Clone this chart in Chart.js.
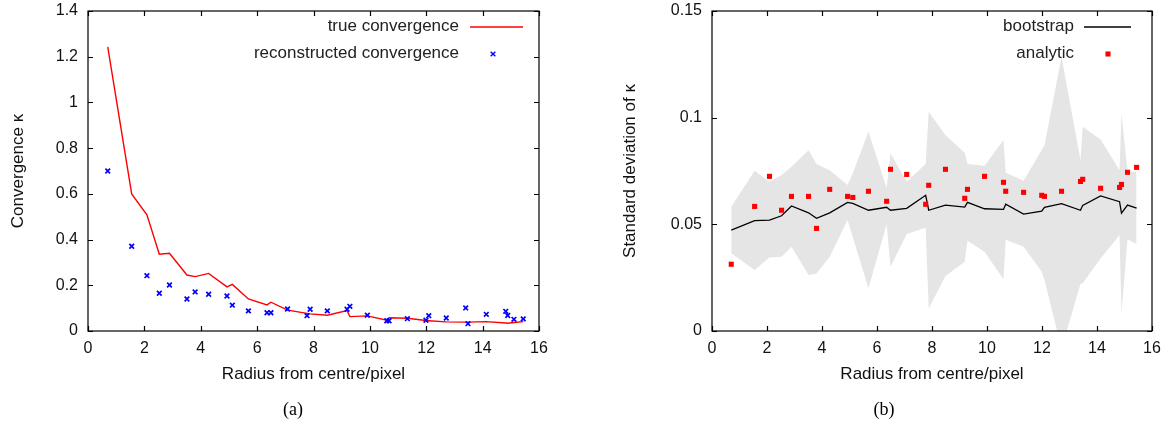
<!DOCTYPE html>
<html>
<head>
<meta charset="utf-8">
<title>Convergence and its standard deviation</title>
<script src="https://cdn.jsdelivr.net/npm/chart.js@4.4.1/dist/chart.umd.min.js"></script>
<style>
  body { margin: 0; background: #fff; width: 1168px; height: 432px; position: relative; overflow: hidden; }
  canvas { position: absolute; top: 0; }
  #left { left: 0; }
  #right { left: 580px; }
  .cap { position: absolute; top: 399px; font: 18px "Liberation Serif", serif; color: #000; transform: translateX(-50%); }
</style>
</head>
<body>
<canvas id="left" width="580" height="400"></canvas>
<canvas id="right" width="588" height="400"></canvas>
<div class="cap" style="left:293px">(a)</div>
<div class="cap" style="left:884px">(b)</div>
<script>
// radii (pixels from centre) shared by both panels
const radius = [0.70, 1.55, 2.09, 2.53, 2.89, 3.51, 3.80, 4.28, 4.93, 5.12, 5.69, 6.35, 6.49, 7.08, 7.77, 7.88,
  8.49, 9.19, 9.29, 9.91, 10.60, 10.68, 11.33, 11.99, 12.09, 12.71, 13.40, 13.48, 14.13, 14.82, 14.89, 15.11, 15.44];

// (a) convergence
const trueKappa = [1.243, 0.600, 0.508, 0.336, 0.340, 0.245, 0.238, 0.252, 0.193, 0.204, 0.140, 0.114, 0.126, 0.091, 0.077, 0.075,
  0.069, 0.089, 0.063, 0.066, 0.047, 0.058, 0.056, 0.046, 0.045, 0.040, 0.039, 0.039, 0.041, 0.035, 0.034, 0.037, 0.041];
const reconKappa = [0.700, 0.371, 0.242, 0.165, 0.201, 0.140, 0.171, 0.161, 0.153, 0.113, 0.088, 0.080, 0.080, 0.096, 0.067, 0.095,
  0.088, 0.095, 0.108, 0.069, 0.045, 0.045, 0.054, 0.047, 0.067, 0.057, 0.101, 0.032, 0.073, 0.086, 0.068, 0.051, 0.053];

// (b) standard deviation of kappa
const analyticSd = [0.0313, 0.0584, 0.0725, 0.0566, 0.0631, 0.0631, 0.0481, 0.0664, 0.0631, 0.0626, 0.0655, 0.0608, 0.0758, 0.0734, 0.0594, 0.0683,
  0.0758, 0.0622, 0.0664, 0.0725, 0.0697, 0.0655, 0.0650, 0.0636, 0.0631, 0.0655, 0.0701, 0.0711, 0.0669, 0.0673, 0.0687, 0.0744, 0.0767];
const bootstrapSd = [0.0473, 0.0517, 0.0520, 0.0540, 0.0586, 0.0554, 0.0528, 0.0554, 0.0603, 0.0598, 0.0566, 0.0580, 0.0566, 0.0575, 0.0636, 0.0566,
  0.0590, 0.0581, 0.0603, 0.0573, 0.0570, 0.0594, 0.0548, 0.0562, 0.0580, 0.0597, 0.0566, 0.0589, 0.0633, 0.0606, 0.0552, 0.0590, 0.0576];
const bootstrapHi = [0.0583, 0.0751, 0.0700, 0.0731, 0.0770, 0.0847, 0.0783, 0.0754, 0.0684, 0.0740, 0.0934, 0.0670, 0.0833, 0.0700, 0.0783, 0.1028,
  0.0918, 0.0836, 0.0783, 0.0775, 0.0895, 0.0742, 0.0704, 0.0848, 0.0870, 0.1285, 0.0800, 0.0957, 0.0898, 0.0754, 0.1020, 0.0747, 0.0747];
const bootstrapLo = [0.0364, 0.0286, 0.0344, 0.0348, 0.0395, 0.0262, 0.0270, 0.0348, 0.0520, 0.0440, 0.0200, 0.0500, 0.0301, 0.0455, 0.0484, 0.0106,
  0.0258, 0.0325, 0.0423, 0.0372, 0.0242, 0.0428, 0.0395, 0.0278, 0.0240, -0.0083, 0.0222, 0.0224, 0.0340, 0.0450, 0.0083, 0.0430, 0.0408];

const xTitle = 'Radius from centre/pixel';

Chart.defaults.font.family = '"Liberation Sans", Arial, sans-serif';
Chart.defaults.color = '#111';

function pts(ys) {
  return radius.map((r, i) => ({ x: r, y: ys[i] }));
}

// box round the plot with inward ticks on all four sides
const frame = {
  id: 'frame',
  afterDraw(chart) {
    const { ctx, chartArea: a, scales: { x, y } } = chart;
    ctx.save();
    ctx.strokeStyle = '#000';
    ctx.lineWidth = 1.2;
    ctx.beginPath();
    x.ticks.forEach(t => {
      const px = Math.round(x.getPixelForValue(t.value)) + 0.5;
      ctx.moveTo(px, a.bottom); ctx.lineTo(px, a.bottom - 5);
      ctx.moveTo(px, a.top); ctx.lineTo(px, a.top + 5);
    });
    y.ticks.forEach(t => {
      const py = Math.round(y.getPixelForValue(t.value)) + 0.5;
      ctx.moveTo(a.left, py); ctx.lineTo(a.left + 5, py);
      ctx.moveTo(a.right, py); ctx.lineTo(a.right - 5, py);
    });
    ctx.stroke();
    ctx.strokeRect(a.left, a.top, a.right - a.left, a.bottom - a.top);
    ctx.restore();
  }
};

// gnuplot-style key: text right-aligned, sample to its right
const key = {
  id: 'key',
  afterDraw(chart, args, opts) {
    const { ctx, chartArea: a } = chart;
    ctx.save();
    ctx.font = '17px "Liberation Sans", Arial, sans-serif';
    ctx.textAlign = 'right';
    ctx.textBaseline = 'middle';
    opts.items.forEach((it, i) => {
      const ds = chart.data.datasets[it.dataset];
      const yy = a.top + 15 + i * 27;
      ctx.fillStyle = '#222';
      ctx.fillText(ds.label, a.right - opts.textGap, yy);
      if (it.kind === 'line') {
        ctx.strokeStyle = ds.borderColor;
        ctx.lineWidth = ds.borderWidth;
        ctx.beginPath();
        ctx.moveTo(a.right - opts.lineFrom, yy + 1);
        ctx.lineTo(a.right - opts.lineTo, yy + 1);
        ctx.stroke();
      } else {
        ctx.strokeStyle = ds.borderColor;
        ctx.fillStyle = ds.backgroundColor;
        Chart.helpers.drawPoint(ctx, {
          pointStyle: ds.pointStyle, radius: ds.pointRadius, borderWidth: ds.borderWidth, rotation: 0
        }, a.right - opts.marker, yy + 1);
      }
    });
    ctx.restore();
  }
};

function scales(yMax, yStep, yWidth, yTitle, yTitlePad) {
  return {
    x: {
      type: 'linear', min: 0, max: 16,
      ticks: { stepSize: 2, padding: 8, font: { size: 16 } },
      grid: { display: false, drawTicks: false },
      border: { display: false },
      title: { display: true, text: xTitle, font: { size: 17 }, padding: { top: 0, bottom: 15 } },
      afterFit(s) { s.height = 69; s.paddingLeft = 0; s.paddingRight = 0; }
    },
    y: {
      type: 'linear', min: 0, max: yMax,
      ticks: { stepSize: yStep, padding: 10, font: { size: 16 }, callback: v => String(+v.toFixed(3)) },
      grid: { display: false, drawTicks: false },
      border: { display: false },
      title: { display: true, text: yTitle, font: { size: 17 }, padding: { top: yTitlePad, bottom: 0 } },
      afterFit(s) { s.width = yWidth; s.paddingTop = 0; s.paddingBottom = 0; }
    }
  };
}

new Chart(document.getElementById('left'), {
  type: 'line',
  data: {
    datasets: [
      {
        label: 'reconstructed convergence', data: pts(reconKappa), showLine: false,
        pointStyle: 'crossRot', pointRadius: 3.3, borderWidth: 1.7,
        borderColor: 'rgb(0,0,255)', backgroundColor: 'rgb(0,0,255)'
      },
      {
        label: 'true convergence', data: pts(trueKappa), borderColor: 'rgb(255,0,0)',
        borderWidth: 1.4, pointRadius: 0, tension: 0, fill: false
      }
    ]
  },
  options: {
    responsive: false, animation: false, events: [],
    layout: { padding: { left: 0, right: 41, top: 11, bottom: 0 } },
    scales: scales(1.4, 0.2, 88, 'Convergence κ', 8),
    plugins: {
      legend: { display: false }, tooltip: { enabled: false },
      key: { textGap: 80, lineFrom: 69, lineTo: 16, marker: 46,
        items: [{ dataset: 1, kind: 'line' }, { dataset: 0, kind: 'point' }] }
    }
  },
  plugins: [frame, key]
});

new Chart(document.getElementById('right'), {
  type: 'line',
  data: {
    datasets: [
      {
        label: 'analytic', data: pts(analyticSd), showLine: false,
        pointStyle: 'rect', pointRadius: 3.6, borderWidth: 0,
        borderColor: 'rgb(255,0,0)', backgroundColor: 'rgb(255,0,0)'
      },
      {
        label: 'bootstrap', data: pts(bootstrapSd), borderColor: '#000',
        borderWidth: 1.3, pointRadius: 0, tension: 0, fill: false
      },
      {
        label: 'upper', data: pts(bootstrapHi), borderColor: 'rgba(0,0,0,0)', borderWidth: 0,
        pointRadius: 0, tension: 0, fill: '+1', backgroundColor: 'rgb(229,229,229)'
      },
      {
        label: 'lower', data: pts(bootstrapLo), borderColor: 'rgba(0,0,0,0)', borderWidth: 0,
        pointRadius: 0, tension: 0, fill: false
      }
    ]
  },
  options: {
    responsive: false, animation: false, events: [],
    layout: { padding: { left: 0, right: 16, top: 11, bottom: 0 } },
    scales: scales(0.15, 0.05, 132, 'Standard deviation of κ', 40),
    plugins: {
      legend: { display: false }, tooltip: { enabled: false },
      key: { textGap: 78, lineFrom: 68, lineTo: 21, marker: 44,
        items: [{ dataset: 1, kind: 'line' }, { dataset: 0, kind: 'point' }] }
    }
  },
  plugins: [frame, key]
});
</script>
</body>
</html>
